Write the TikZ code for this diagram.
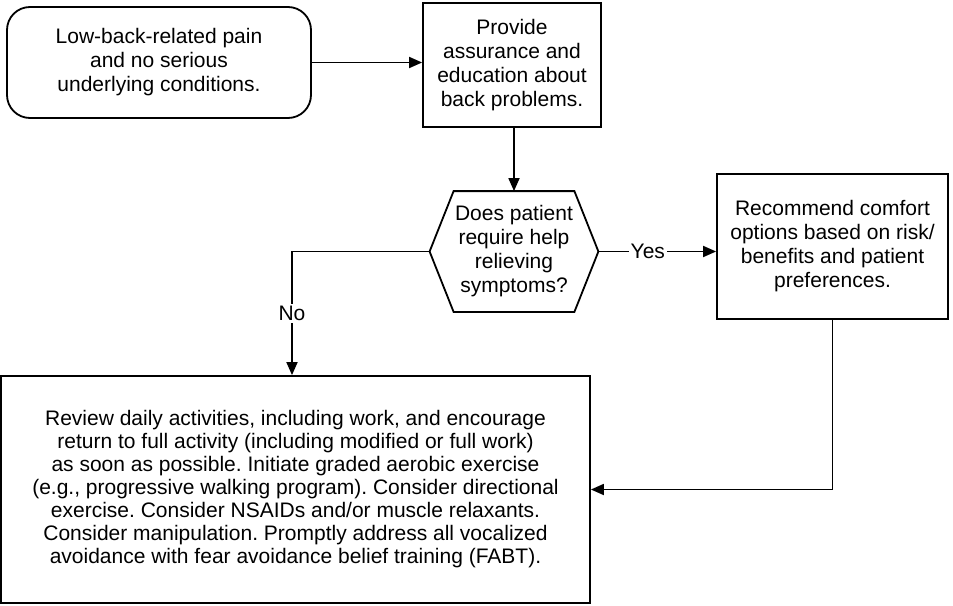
\documentclass[tikz,border=0pt]{standalone}
\usepackage{fontspec}
\setmainfont{Liberation Sans}
\usetikzlibrary{arrows.meta}
\frenchspacing

\begin{document}
\begin{tikzpicture}[x=0.5pt, y=-0.5pt, line width=0.9pt,
  every node/.style={font=\fontsize{10.5}{12}\selectfont, align=center, inner sep=0pt},
  box/.style={draw, minimum width=#1},
  arrow/.style={-{Triangle[length=6.5pt,width=5.5pt]}},
  answer/.style={fill=white, inner sep=1pt}]

  % Fix the page size
  \useasboundingbox (0,0) rectangle (953,605);

  % Define the chamfer of the decision hexagon
  \def\chamfer{12pt}

  % Draw the boxes
  \node[box=152pt, rounded corners=11.5pt, minimum height=55.5pt] (pain) at (159,62.5)
    {Low-back-related pain\\and no serious\\underlying conditions.};
  \node[box=89pt, minimum height=62pt] (assure) at (512,65)
    {Provide\\assurance and\\education about\\back problems.};
  \node[box=115.5pt, minimum height=72.5pt] (comfort) at (832.5,246.5)
    {Recommend comfort\\options based on risk/\\benefits and patient\\preferences.};
  \node[box=294.5pt, minimum height=113.5pt, font=\fontsize{10.5}{11.5}\selectfont] (review) at (295.5,489.5)
    {Review daily activities, including work, and encourage\\
     return to full activity (including modified or full work)\\
     as soon as possible. Initiate graded aerobic exercise\\
     (e.g., progressive walking program). Consider directional\\
     exercise. Consider NSAIDs and/or muscle relaxants.\\
     Consider manipulation. Promptly address all vocalized\\
     avoidance with fear avoidance belief training (FABT).};

  % Draw the decision
  \node[minimum width=83.5pt, minimum height=59.5pt] (ask) at (514,251.5)
    {Does patient\\require help\\relieving\\symptoms?};
  \draw (ask.west) -- ([xshift=\chamfer]ask.north west) -- ([xshift=-\chamfer]ask.north east)
    -- (ask.east) -- ([xshift=-\chamfer]ask.south east) -- ([xshift=\chamfer]ask.south west) -- cycle;

  % Draw the connectors
  \draw[arrow] (pain.east) -- (pain.east -| assure.west);
  \draw[arrow] (ask.north |- assure.south) -- (ask.north);
  \draw[arrow] (ask.east) -- node[answer, pos=0.42] {Yes} (ask.east -| comfort.west);
  \coordinate (nobend) at (292,251.5);
  \draw[arrow] (ask.west) -- (nobend) -- node[answer] {No} (nobend |- review.north);
  \draw[arrow] (comfort.south) |- (review.east);

\end{tikzpicture}
\end{document}
